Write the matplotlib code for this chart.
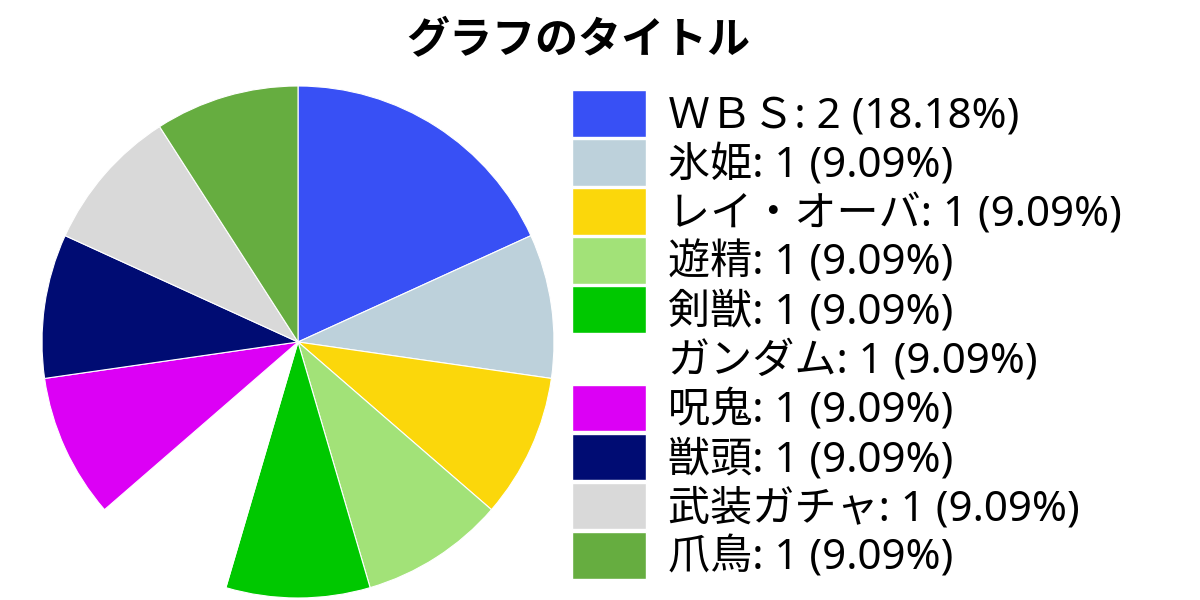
import matplotlib
matplotlib.use("Agg")
import matplotlib.pyplot as plt
from matplotlib.patches import Patch

plt.rcParams['font.family'] = ['Noto Sans', 'Noto Sans CJK JP', 'DejaVu Sans']

# data
names = ["ＷＢＳ", "氷姫", "レイ・オーバ", "遊精", "剣獣", "ガンダム", "呪鬼", "獣頭", "武装ガチャ", "爪鳥"]
counts = [2, 1, 1, 1, 1, 1, 1, 1, 1, 1]
colors = ["#3850F5", "#BDD1DB", "#FBD70B", "#A2E278", "#00C800", "#FFFFFF",
          "#DC00F5", "#000C73", "#D9D9D9", "#66AD40"]

total = sum(counts)
labels = ["{}: {} ({:.2f}%)".format(n, c, c / total * 100) for n, c in zip(names, counts)]

fig = plt.figure(figsize=(12, 6), dpi=100)

W, H = 1200, 600
cx, cy, r = 298, 342, 256
ax = fig.add_axes([(cx - r) / W, (H - cy - r) / H, 2 * r / W, 2 * r / H])
ax.pie(counts, colors=colors, startangle=90, counterclock=False,
       wedgeprops=dict(edgecolor="white", linewidth=0.8))
ax.set_xlim(-1, 1)
ax.set_ylim(-1, 1)
ax.set_aspect("equal")
ax.axis("off")

fig.text(578 / W, 1 - 42 / H, "グラフのタイトル", ha="center", va="center",
         fontsize=31, fontweight="bold")

handles = [Patch(facecolor=c, edgecolor="white") for c in colors]
fig.legend(handles, labels, loc="upper left", bbox_to_anchor=(572 / W, 1 - 90 / H),
           frameon=False, fontsize=30.3, handlelength=1.76, handleheight=1.33,
           handletextpad=0.52, labelspacing=0.04, borderpad=0, borderaxespad=0)

fig.savefig("out.png", dpi=100)
